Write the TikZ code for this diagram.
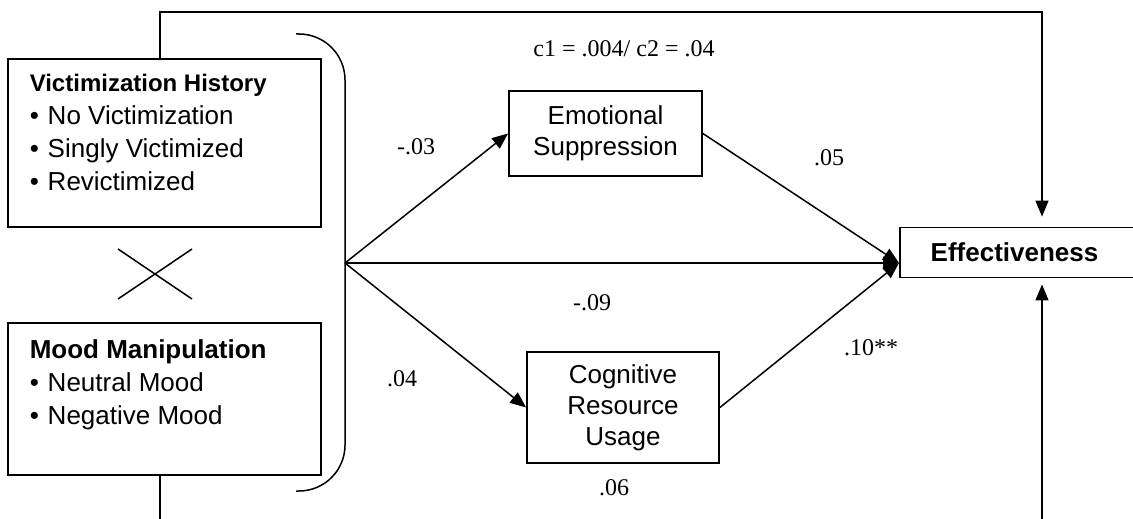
\documentclass[tikz,border=0pt]{standalone}
\usepackage{fontspec}
\setmainfont{Liberation Serif}
\newfontfamily\arialfont{Liberation Sans}
\usetikzlibrary{arrows.meta}

\begin{document}
\begin{tikzpicture}
[
x=1pt, y=-1pt,
line width=1.5pt,
box/.style={draw, line width=1.8pt, inner sep=0pt},
lbl/.style={font=\fontsize{24}{28}\selectfont, inner sep=0pt},
sans/.style={font=\arialfont\fontsize{26}{31}\selectfont, align=center},
list/.style={anchor=north west, align=left, inner sep=0pt, font=\arialfont\fontsize{26}{33}\selectfont},
arr/.style={-{Triangle[length=16pt,width=13pt]}}
]
\useasboundingbox (0,0) rectangle (1133,519);

\node[box, minimum width=313pt, minimum height=168pt] (vh) at (164.5,143) {};
\node[box, minimum width=313pt, minimum height=152pt] (mm) at (164.5,399) {};
\node[list] (vhtext) at (29,73.8)
{{\fontsize{24}{33}\selectfont\bfseries Victimization History}\\
\makebox[18pt][l]{•}No Victimization\\
\makebox[18pt][l]{•}Singly Victimized\\
\makebox[18pt][l]{•}Revictimized};
\node[list] (mmtext) at (29,339.4)
{{\bfseries Mood Manipulation}\\
\makebox[18pt][l]{•}Neutral Mood\\
\makebox[18pt][l]{•}Negative Mood};

\node[box, sans, minimum width=193pt, minimum height=85pt] (es) at (605.5,133.5) {Emotional\\Suppression};
\node[box, sans, minimum width=192pt, minimum height=111pt] (cru) at (623,407.5) {Cognitive\\Resource\\Usage};
\node[box, minimum width=284pt, minimum height=50pt] (eff) at (1042,252.5) {};
\node[font=\arialfont\bfseries\fontsize{26}{31}\selectfont, inner sep=0pt] (efftext) at (1014.5,252.5) {Effectiveness};

\coordinate (hub) at (345,263);
\coordinate (meet) at (899,263);
\coordinate (topl) at (160,12);
\coordinate (topr) at (1042,12);
\coordinate (botl) at (160,519);
\coordinate (botr) at (1042,519);

\draw (118,249) -- (192,299) (192,249) -- (118,299);
\draw[rounded corners=46pt] (296,34) -- (345,34) -- (345,491) -- (296,491);

\draw[arr, shorten >=10pt] (vh.north -| topl) -- (topl) -- (topr) -- (eff.north);
\draw (mm.south -| botl) -- (botl);
\draw[arr, shorten >=6pt] (botr) -- (eff.south);

\draw[arr] (hub) -- (es.west);
\draw[arr] (hub) -- (meet);
\draw[arr] (hub) -- (cru.west);
\draw[arr] (es.east) -- (meet);
\draw[arr] (cru.east) -- (meet);

\node[lbl] (ctotal) at (624,49) {c1 = .004/ c2 = .04};
\node[lbl] (aes) at (416,147) {-.03};
\node[lbl] (bes) at (829,158) {.05};
\node[lbl] (cdirect) at (592,303) {-.09};
\node[lbl] (acru) at (402,379) {.04};
\node[lbl] (bcru) at (871,348) {.10**};
\node[lbl] (indirect) at (614,488) {.06};
\end{tikzpicture}
\end{document}
